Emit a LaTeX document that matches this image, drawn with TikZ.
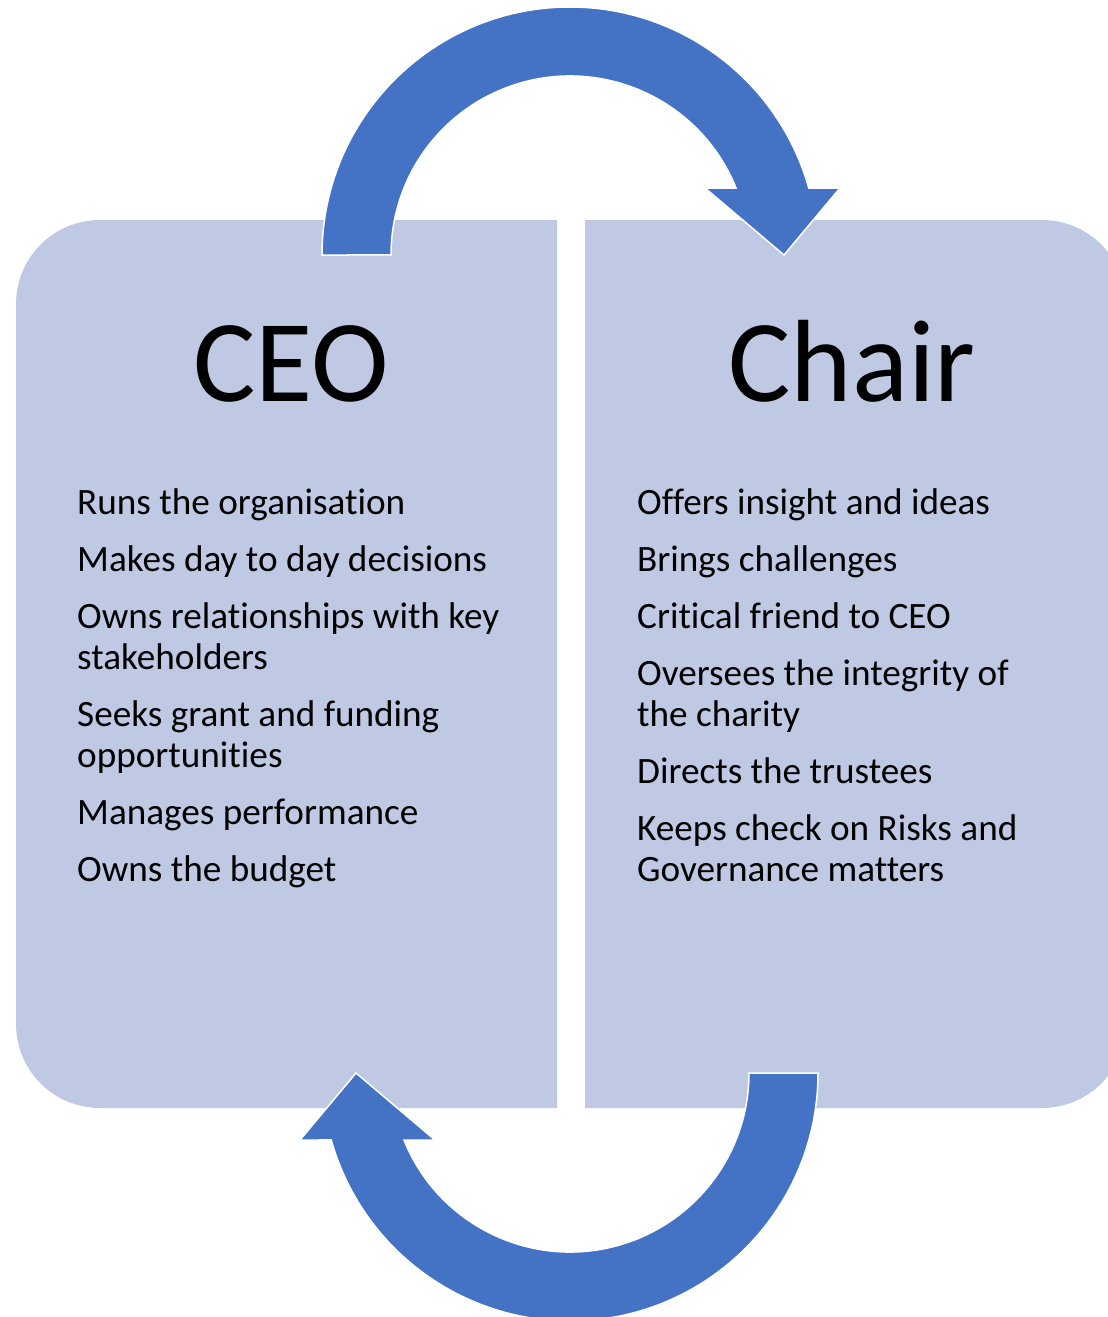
\documentclass[tikz,border=0pt]{standalone}
\usepackage{fontspec}
\setmainfont{Carlito}[Ligatures={NoCommon}]
\definecolor{panelfill}{HTML}{BFC9E3}
\definecolor{arrowfill}{HTML}{4472C4}
\begin{document}
\begin{tikzpicture}[x=1pt,y=-1pt,
  panel/.style={fill=panelfill},
  bigarrow/.style={fill=arrowfill, draw=white, line width=1.5pt, line join=miter},
  title/.style={font=\fontsize{117}{117}\selectfont, anchor=base, inner sep=0pt},
  item/.style={font=\fontsize{37.2}{41}\selectfont, anchor=base west, inner sep=0pt}]
\useasboundingbox (0,0) rectangle (1108,1317);
\clip (0,0) rectangle (1108,1317);
% panels
\fill[panel] (557,220) -- (100,220) arc[start angle=270, end angle=180, radius=84]
  -- (16,1024) arc[start angle=180, end angle=90, radius=84] -- (557,1108) -- cycle;
\fill[panel] (585,220) -- (1042,220) arc[start angle=270, end angle=360, radius=84]
  -- (1126,1024) arc[start angle=0, end angle=90, radius=84] -- (585,1108) -- cycle;
% top curved arrow
\filldraw[bigarrow] (322,255) arc[start angle=180, end angle=344.33, radius=248]
  -- (840,188) -- (784,255) -- (705,188) -- (736,188)
  arc[start angle=338.02, end angle=180, radius=179] -- cycle;
% bottom curved arrow
\begin{scope}[rotate around={180:(570,664)}]
\filldraw[bigarrow] (322,255) arc[start angle=180, end angle=344.33, radius=248]
  -- (840,188) -- (784,255) -- (705,188) -- (736,188)
  arc[start angle=338.02, end angle=180, radius=179] -- cycle;
\end{scope}
% titles
\node[title] (ceo) at (291,401) {CEO};
\node[title] (chair) at (852,401) {Chair};
% left items
\node[item] (l1) at (77,514) {Runs the organisation};
\node[item] (l2) at (77,571) {Makes day to day decisions};
\node[item] (l3a) at (77,628) {Owns relationships with key};
\node[item] (l3b) at (77,669) {stakeholders};
\node[item] (l4a) at (77,726) {Seeks grant and funding};
\node[item] (l4b) at (77,767) {opportunities};
\node[item] (l5) at (77,824) {Manages performance};
\node[item] (l6) at (77,881) {Owns the budget};
% right items
\node[item] (r1) at (637,514) {Offers insight and ideas};
\node[item] (r2) at (637,571) {Brings challenges};
\node[item] (r3) at (637,628) {Critical friend to CEO};
\node[item] (r4a) at (637,685) {Oversees the integrity of};
\node[item] (r4b) at (637,726) {the charity};
\node[item] (r5) at (637,783) {Directs the trustees};
\node[item] (r6a) at (637,840) {Keeps check on Risks and};
\node[item] (r6b) at (637,881) {Governance matters};
\end{tikzpicture}
\end{document}
